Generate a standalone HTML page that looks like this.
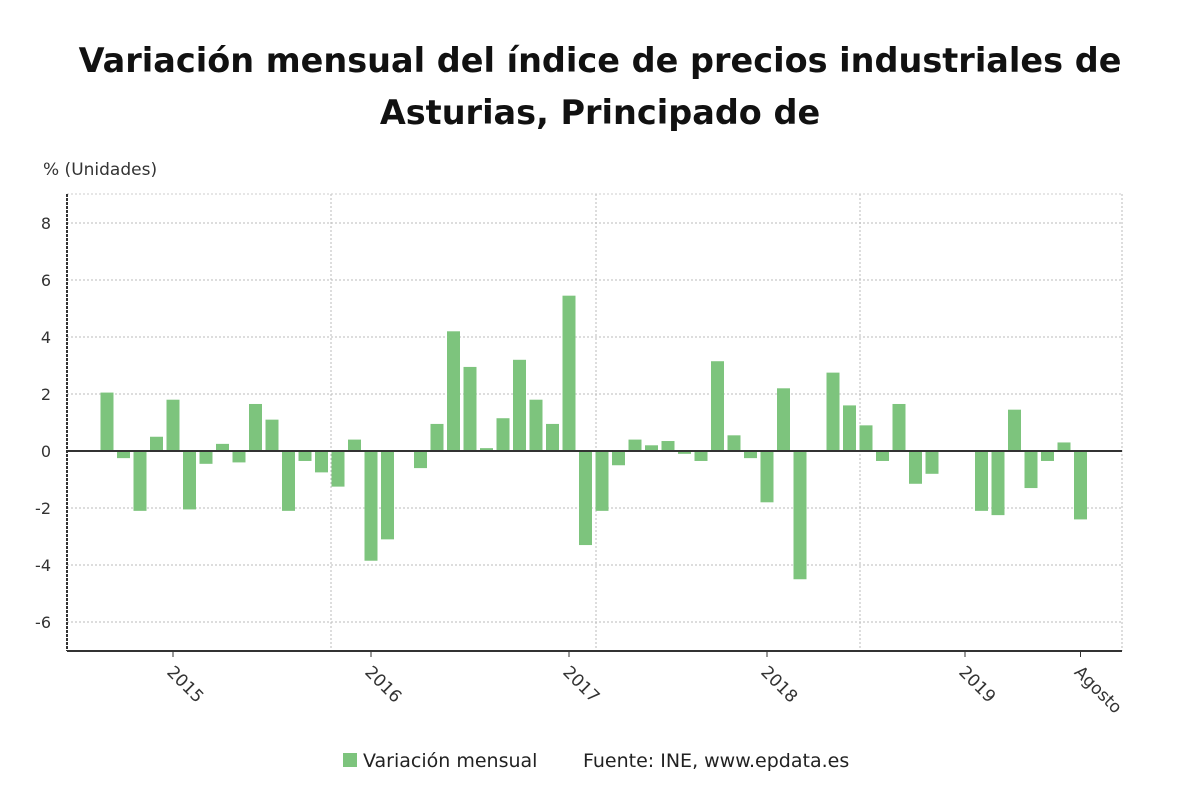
<!DOCTYPE html>
<html><head><meta charset="utf-8">
<style>
body{margin:0;background:#fff;width:1200px;height:808px;overflow:hidden;font-family:"DejaVu Sans","Liberation Sans",sans-serif;}
</style></head>
<body>
<svg width="1200" height="808" xmlns="http://www.w3.org/2000/svg">
<text x="600" y="72" text-anchor="middle" font-size="33.5" font-weight="bold" fill="#111">Variación mensual del índice de precios industriales de</text>
<text x="600" y="124" text-anchor="middle" font-size="33.5" font-weight="bold" fill="#111">Asturias, Principado de</text>
<text x="43" y="175" font-size="17" fill="#333">% (Unidades)</text>
<g id="grid"></g>
<g id="bars"></g>
<g id="axes"></g>
<g>
<rect x="343" y="753" width="14" height="14" fill="#7dc47d"/>
<text x="363" y="767" font-size="19" fill="#222">Variación mensual</text>
<text x="583" y="767" font-size="19" fill="#222">Fuente: INE, www.epdata.es</text>
</g>
</svg>
<script>
const months = 60;
const values = [2.05,-0.25,-2.1,0.5,1.8,-2.05,-0.45,0.25,-0.4,1.65,1.1,-2.1,-0.35,-0.75,-1.25,0.4,-3.85,-3.1,0,-0.6,0.95,4.2,2.95,0.1,1.15,3.2,1.8,0.95,5.45,-3.3,-2.1,-0.5,0.4,0.2,0.35,-0.1,-0.35,3.15,0.55,-0.25,-1.8,2.2,-4.5,0,2.75,1.6,0.9,-0.35,1.65,-1.15,-0.8,0,0,-2.1,-2.25,1.45,-1.3,-0.35,0.3,-2.4];
const yTicks = [8,6,4,2,0,-2,-4,-6];
const xLabels = ["2015","2016","2017","2018","2019","Agosto"];
const xLabelIdx = [4,16,28,40,52,59];
const NS="http://www.w3.org/2000/svg";
const L=67,R=1122,T=194,B=651;
const y=v=>451-v*28.5;
const x=i=>107+i*16.5;
function mk(tag,attrs,parent){const e=document.createElementNS(NS,tag);for(const k in attrs)e.setAttribute(k,attrs[k]);parent.appendChild(e);return e;}
const grid=document.getElementById('grid'),bars=document.getElementById('bars'),axes=document.getElementById('axes');
yTicks.forEach(t=>{
  if(t!==0){const g=mk('line',{x1:L,x2:R,y1:y(t),y2:y(t),stroke:'#bbb','stroke-dasharray':'2,2'},grid);
  
  }
  const tx=mk('text',{x:51,y:y(t)+6,'text-anchor':'end','font-size':16,fill:'#333'},axes);
  tx.textContent=t;
  
  
});
[331,596,860,R].forEach(gx=>{
  const g=mk('line',{x1:gx,x2:gx,y1:T,y2:B,stroke:'#bbb','stroke-dasharray':'2,2'},grid);
  
  
});
mk('line',{x1:L,x2:R,y1:T,y2:T,stroke:'#ccc','stroke-dasharray':'2,2'},grid);
values.forEach((v,i)=>{
  const r=mk('rect',{x:x(i)-6.5,width:13,y:Math.min(y(v),y(0)),height:Math.abs(y(v)-y(0)),fill:'#7dc47d'},bars);
  
  
});
const z=mk('line',{x1:L,x2:R,y1:y(0),y2:y(0),stroke:'#333','stroke-width':2},axes);


const ya=mk('line',{x1:L,x2:L,y1:T,y2:B,stroke:'#333','stroke-width':2,'stroke-dasharray':'3,1'},axes);


const xa=mk('line',{x1:L,x2:R,y1:B,y2:B,stroke:'#333','stroke-width':2},axes);


xLabels.forEach((lab,k)=>{
  const px=x(xLabelIdx[k]);
  const tk=mk('line',{x1:px,x2:px,y1:B,y2:B+6,stroke:'#333'},axes);
  
  
  const tx=mk('text',{x:px-7,y:B+22,'font-size':17,fill:'#333',transform:`rotate(45 ${px-7} ${B+22})`},axes);
  tx.textContent=lab;
  
  
});
</script>
</body></html>
